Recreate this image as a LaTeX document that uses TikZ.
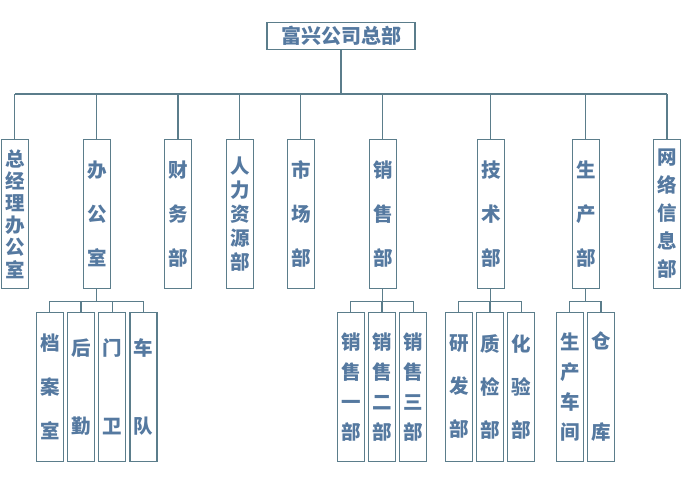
\documentclass[tikz,border=0pt]{standalone}
\usepackage{fontspec}
\newfontfamily\cjk{Noto Sans CJK SC}
\usetikzlibrary{positioning}
\definecolor{linec}{HTML}{5B7D8B}
\definecolor{textc}{HTML}{5579A0}

\begin{document}
\begin{tikzpicture}[x=1pt,y=-1pt,
  box/.style={draw=linec, line width=1.2pt, inner sep=0pt, minimum width=27pt, minimum height=149pt, text=textc, align=center, font=\cjk\bfseries\fontsize{19.5}{#1}\selectfont},
  link/.style={draw=linec, line width=1.2pt}]
\useasboundingbox (0,0) rectangle (683,480);
\node[draw=linec, line width=1.2pt, inner sep=0pt, minimum width=148pt, minimum height=27pt, text=textc, font=\cjk\bfseries\fontsize{20}{22}\selectfont] (hq) at (341,35.7) {富兴公司总部};
\coordinate (bus) at (0,93.7);
\coordinate (sub) at (0,301.7);
% first level
\node[box=22.2] (zjb) at (14.8,213.8) {总\\经\\理\\办\\公\\室};
\node[box=44] (bgs) at (96.8,213.8) {办\\公\\室};
\node[box=44] (cw) at (178,213.8) {财\\务\\部};
\node[box=24] (rl) at (239.8,213.8) {人\\力\\资\\源\\部};
\node[box=44] (sc) at (300.8,213.8) {市\\场\\部};
\node[box=44] (xs) at (382.8,213.8) {销\\售\\部};
\node[box=44] (js) at (490.8,213.8) {技\\术\\部};
\node[box=44] (scb) at (585.8,213.8) {生\\产\\部};
\node[box=28] (wl) at (667,213.8) {网\\络\\信\\息\\部};
% second level
\node[box=44] (da) at (49.8,386.8) {档\\案\\室};
\node[box=78, right=3pt of da] (hoq) {后\\勤};
\node[box=78, right=3pt of hoq] (mw) {门\\卫};
\node[box=78, right=3pt of mw] (cd) {车\\队};
\node[box=30] (xs1) at (350.8,386.8) {销\\售\\一\\部};
\node[box=30, right=3pt of xs1] (xs2) {销\\售\\二\\部};
\node[box=30, right=3pt of xs2] (xs3) {销\\售\\三\\部};
\node[box=43] (yf) at (458.8,386.8) {研\\发\\部};
\node[box=43, right=3pt of yf] (zj) {质\\检\\部};
\node[box=43, right=3pt of zj] (hy) {化\\验\\部};
\node[box=30] (cj) at (569.8,386.8) {生\\产\\车\\间};
\node[box=91, right=3pt of cj] (ck) {仓\\库};
% lines
\draw[link] (hq.south) -- (hq.south |- bus);
\draw[link, line width=2pt] (zjb |- bus) -- (wl |- bus);
\foreach \n in {zjb,bgs,cw,rl,sc,xs,js,scb,wl}
  \draw[link] (\n.north) -- (\n |- bus);
\draw[link] (bgs.south) -- (bgs |- sub);
\draw[link] (da.north) -- (da |- sub) -- (cd |- sub) -- (cd.north);
\draw[link] (hoq.north) -- (hoq |- sub);
\draw[link] (mw.north) -- (mw |- sub);
\draw[link] (xs.south) -- (xs |- sub);
\draw[link] (xs1.north) -- (xs1 |- sub) -- (xs3 |- sub) -- (xs3.north);
\draw[link] (xs2.north) -- (xs2 |- sub);
\draw[link] (js.south) -- (js |- sub);
\draw[link] (yf.north) -- (yf |- sub) -- (hy |- sub) -- (hy.north);
\draw[link] (zj.north) -- (zj |- sub);
\draw[link] (scb.south) -- (scb |- sub);
\draw[link] (cj.north) -- (cj |- sub) -- (ck |- sub) -- (ck.north);
\end{tikzpicture}
\end{document}
